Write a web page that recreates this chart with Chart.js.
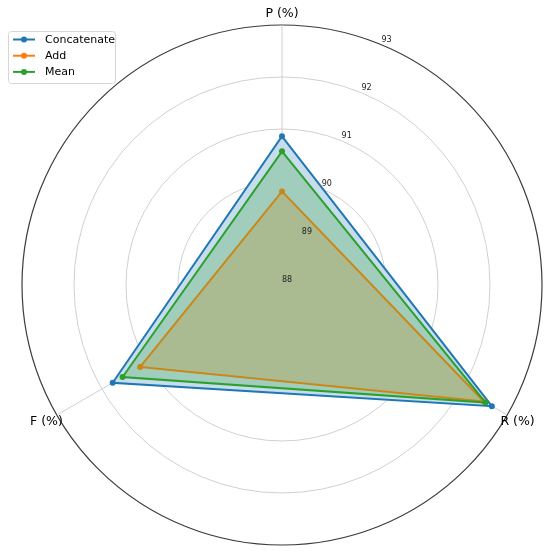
<!DOCTYPE html>
<html>
<head>
<meta charset="utf-8">
<script src="https://cdn.jsdelivr.net/npm/chart.js@4.4.1/dist/chart.umd.min.js"></script>
<style>
html, body { margin: 0; padding: 0; background: #fff; }
#caja { width: 550px; height: 551px; position: relative; }
</style>
</head>
<body>
<div id="caja"><canvas id="grafica"></canvas></div>
<script>
const etiquetas = ['P (%)', 'R (%)', 'F (%)'];
const series = ['Concatenate', 'Add', 'Mean'];
const concatenate = [90.86, 92.66, 91.76];
const add = [89.80, 92.48, 91.15];
const mean = [90.57, 92.52, 91.54];
const marcas = [88, 89, 90, 91, 92, 93];
const colores = ['#1f77b4', '#ff7f0e', '#2ca02c'];
const rellenos = ['rgba(31,119,180,0.25)', 'rgba(255,127,14,0.25)', 'rgba(44,160,44,0.25)'];

const valores = [concatenate, add, mean];
const grafica = document.getElementById('grafica');

// matplotlib dibuja la ultima serie encima
let datasetss = series.map(function(nombre, i) {
    return {
        label: nombre,
        data: valores[i],
        borderColor: colores[i],
        backgroundColor: rellenos[i],
        borderWidth: 2,
        pointRadius: 3,
        pointBorderWidth: 0,
        pointBackgroundColor: colores[i],
        fill: true,
        order: series.length - i
    };
});

// tapar la rejilla dentro de los poligonos
const fondo = {
    id: 'fondo',
    beforeDatasetsDraw(chart) {
        const ctx = chart.ctx;
        ctx.save();
        ctx.fillStyle = '#fff';
        chart.getSortedVisibleDatasetMetas().forEach(function(meta) {
            ctx.beginPath();
            meta.data.forEach(function(p, i) {
                if (i === 0) ctx.moveTo(p.x, p.y); else ctx.lineTo(p.x, p.y);
            });
            ctx.closePath();
            ctx.fill();
        });
        ctx.restore();
    }
};

// textos: ejes, marcas y leyenda
const textos = {
    id: 'textos',
    afterDatasetsDraw(chart) {
        const ctx = chart.ctx;
        const r = chart.scales.r;
        ctx.save();
        ctx.textAlign = 'center';
        ctx.textBaseline = 'middle';

        ctx.font = '12.5px "DejaVu Sans"';
        ctx.fillStyle = '#000';
        etiquetas.forEach(function(t, i) {
            const p = r.getPointPosition(i, r.drawingArea + 12);
            ctx.fillText(t, p.x, p.y + 1);
        });

        ctx.font = '8px "DejaVu Sans"';
        ctx.fillStyle = '#222';
        const ang = -Math.PI / 2 + Math.PI / 8;
        marcas.forEach(function(v) {
            const d = r.getDistanceFromCenterForValue(v);
            ctx.fillText(String(v), r.xCenter + d * Math.cos(ang) + 5, r.yCenter + d * Math.sin(ang) - 5);
        });

        // leyenda
        ctx.fillStyle = 'rgba(255,255,255,0.8)';
        ctx.strokeStyle = '#d6d6d6';
        ctx.lineWidth = 1;
        ctx.beginPath();
        ctx.roundRect(8.5, 31.5, 107, 52, 3);
        ctx.fill();
        ctx.stroke();
        ctx.font = '11px "DejaVu Sans"';
        ctx.textAlign = 'left';
        series.forEach(function(nombre, i) {
            const y = 39.5 + i * 16.2;
            ctx.strokeStyle = colores[i];
            ctx.lineWidth = 2;
            ctx.beginPath();
            ctx.moveTo(13, y);
            ctx.lineTo(35, y);
            ctx.stroke();
            ctx.fillStyle = colores[i];
            ctx.beginPath();
            ctx.arc(24, y, 3, 0, Math.PI * 2);
            ctx.fill();
            ctx.fillStyle = '#000';
            ctx.fillText(nombre, 45, y + 0.5);
        });
        ctx.restore();
    }
};

const configuracion = {
    type: 'radar',
    data: { labels: etiquetas, datasets: datasetss },
    options: {
        responsive: true,
        maintainAspectRatio: false,
        animation: false,
        layout: { padding: { left: 22, right: 8, top: 25, bottom: 6 } },
        plugins: { legend: { display: false }, tooltip: { enabled: false } },
        scales: {
            r: {
                min: 88,
                max: 93,
                ticks: { display: false, stepSize: 1 },
                pointLabels: { display: false },
                grid: {
                    circular: true,
                    color: c => (c.tick && c.tick.value === 93) ? '#3c3c3c' : '#d0d0d0',
                    lineWidth: c => (c.tick && c.tick.value === 93) ? 1.2 : 1
                },
                angleLines: { color: '#d0d0d0', lineWidth: 1 }
            }
        }
    },
    plugins: [fondo, textos]
};

new Chart(grafica, configuracion);
</script>
</body>
</html>
